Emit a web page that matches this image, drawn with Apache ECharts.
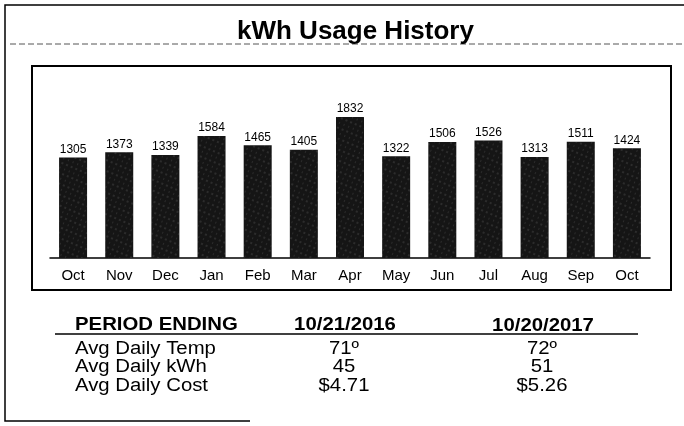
<!DOCTYPE html>
<html>
<head>
<meta charset="utf-8">
<script src="https://cdn.jsdelivr.net/npm/echarts@6/dist/echarts.min.js"></script>
<style>
  html, body { margin: 0; padding: 0; background: #fff; }
  #chart { width: 684px; height: 426px; }
</style>
</head>
<body>
<div id="chart"></div>
<script>
const months = ['Oct', 'Nov', 'Dec', 'Jan', 'Feb', 'Mar', 'Apr', 'May', 'Jun', 'Jul', 'Aug', 'Sep', 'Oct'];
const kwh = [1305, 1373, 1339, 1584, 1465, 1405, 1832, 1322, 1506, 1526, 1313, 1511, 1424];

const tableHeader = ['PERIOD ENDING', '10/21/2016', '10/20/2017'];
const rowLabels = ['Avg Daily Temp', 'Avg Daily kWh', 'Avg Daily Cost'];
const period2016 = ['71\u00ba', '45', '$4.71'];
const period2017 = ['72\u00ba', '51', '$5.26'];

const font = '"Liberation Sans", Arial, sans-serif';
const chart = echarts.init(document.getElementById('chart'));

// the scan is a bit stretched sideways, so widen the table text
const stretch = 1.13;
function cell(text, x, y, align, bold) {
  return {
    type: 'text', x: x, y: y, scaleX: stretch,
    style: { text: text, x: 0, y: 0, font: (bold ? 'bold ' : '') + '18px ' + font,
      fill: '#000', align: align, verticalAlign: 'middle' }
  };
}

const colX = [75, 344, 542];
const rowY = [349, 367, 386];
const tableTexts = [
  cell(tableHeader[0], colX[0], 325, 'left', true),
  cell(tableHeader[1], colX[1] + 1, 325, 'center', true),
  cell(tableHeader[2], colX[2] + 1, 326, 'center', true)
];
rowLabels.forEach((label, i) => {
  tableTexts.push(cell(label, colX[0], rowY[i], 'left', false));
  tableTexts.push(cell(period2016[i], colX[1], rowY[i], 'center', false));
  tableTexts.push(cell(period2017[i], colX[2], rowY[i], 'center', false));
});

chart.setOption({
  animation: false,
  backgroundColor: '#fff',
  title: {
    text: 'kWh Usage History',
    left: 232,
    top: 14,
    textStyle: { fontFamily: font, fontSize: 26, fontWeight: 'bold', color: '#000' }
  },
  grid: { left: 50, top: 104, width: 600, height: 154 },
  xAxis: {
    type: 'category',
    data: months,
    axisLine: { lineStyle: { color: '#000', width: 1.5 } },
    axisTick: { alignWithLabel: true, length: 6, lineStyle: { color: '#000' } },
    axisLabel: { color: '#000', fontFamily: font, fontSize: 15, margin: 10 }
  },
  yAxis: {
    type: 'value',
    min: 0,
    max: 2000,
    show: false,
    splitLine: { show: false }
  },
  series: [{
    type: 'bar',
    data: kwh,
    barWidth: 28,
    itemStyle: {
      color: '#151515',
      decal: {
        symbol: 'rect',
        symbolSize: 0.5,
        color: 'rgba(255,255,255,0.4)',
        dashArrayX: [[2, 3], [1, 4]],
        dashArrayY: [2, 3],
        rotation: 0.4
      }
    },
    label: {
      show: true,
      position: 'top',
      distance: 2,
      color: '#000',
      fontFamily: font,
      fontSize: 12
    }
  }],
  graphic: [
    // outer frame
    { type: 'polyline', shape: { points: [[690, 5], [5, 5], [5, 421], [250, 421]] },
      style: { stroke: '#000', lineWidth: 1.5, fill: null } },
    // dotted rule under title
    { type: 'line', shape: { x1: 10, y1: 44, x2: 684, y2: 44 },
      style: { stroke: '#555', lineWidth: 1, lineDash: [6, 3] } },
    // inner chart frame
    { type: 'rect', shape: { x: 32, y: 66, width: 639, height: 224 },
      style: { stroke: '#000', lineWidth: 2, fill: null } },
    // header rule
    { type: 'line', shape: { x1: 55, y1: 334, x2: 638, y2: 334 },
      style: { stroke: '#000', lineWidth: 1.5 } },
    ...tableTexts
  ]
});
</script>
</body>
</html>
